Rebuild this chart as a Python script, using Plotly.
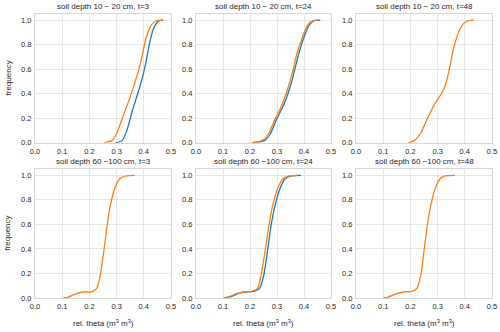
import plotly.graph_objects as go

BLUE = '#1f77b4'
ORANGE = '#ff7f0e'

titles = ['soil depth 10 \u2212 20 cm, t=3', 'soil depth 10 \u2212 20 cm, t=24', 'soil depth 10 \u2212 20 cm, t=48',
          'soil depth 60 \u2212100 cm, t=3', 'soil depth 60 \u2212100 cm, t=24', 'soil depth 60 \u2212100 cm, t=48']

# cumulative frequency curves: (theta, frequency)
top_t3_blue_theta = [0.296, 0.321, 0.3375, 0.359, 0.3775, 0.396, 0.409, 0.421, 0.434, 0.4525, 0.471]
top_t3_blue_freq = [0.0, 0.02, 0.10, 0.27, 0.40, 0.54, 0.67, 0.81, 0.92, 0.99, 1.0]
top_t3_orange_theta = [0.252, 0.284, 0.30, 0.321, 0.346, 0.3625, 0.381, 0.396, 0.409, 0.4275, 0.446, 0.471]
top_t3_orange_freq = [0.0, 0.02, 0.076, 0.2, 0.35, 0.46, 0.59, 0.73, 0.86, 0.96, 0.995, 1.0]

top_t24_blue_theta = [0.21, 0.255, 0.276, 0.297, 0.327, 0.349, 0.365, 0.381, 0.40, 0.419, 0.438, 0.46]
top_t24_blue_freq = [0.0, 0.02, 0.076, 0.185, 0.32, 0.457, 0.59, 0.73, 0.86, 0.96, 0.995, 1.0]
top_t24_orange_theta = [0.206, 0.246, 0.269, 0.291, 0.3205, 0.342, 0.359, 0.374, 0.394, 0.413, 0.432, 0.451]
top_t24_orange_freq = [0.0, 0.02, 0.076, 0.185, 0.32, 0.457, 0.59, 0.73, 0.86, 0.96, 0.995, 1.0]

top_t48_orange_theta = [0.192, 0.216, 0.237, 0.265, 0.29, 0.314, 0.33, 0.345, 0.357, 0.375, 0.394, 0.412, 0.433]
top_t48_orange_freq = [0.0, 0.02, 0.076, 0.21, 0.32, 0.40, 0.48, 0.62, 0.755, 0.89, 0.97, 0.995, 1.0]

bot_t3_orange_theta = [0.104, 0.122, 0.152, 0.177, 0.207, 0.226, 0.24, 0.254, 0.265, 0.277, 0.293, 0.311, 0.335,
                       0.366]
bot_t3_orange_freq = [0.0, 0.008, 0.035, 0.049, 0.05, 0.076, 0.185, 0.40, 0.59, 0.755, 0.89, 0.97, 0.995, 1.0]

bot_t24_blue_theta = [0.105, 0.132, 0.156, 0.18, 0.215, 0.235, 0.251, 0.266, 0.278, 0.293, 0.311, 0.329, 0.354,
                      0.388]
bot_t24_blue_freq = [0.0, 0.014, 0.035, 0.049, 0.054, 0.076, 0.185, 0.40, 0.59, 0.755, 0.89, 0.97, 0.995, 1.0]
bot_t24_orange_theta = [0.101, 0.126, 0.15, 0.174, 0.205, 0.227, 0.241, 0.257, 0.27, 0.284, 0.302, 0.321, 0.345,
                        0.376]
bot_t24_orange_freq = [0.0, 0.014, 0.035, 0.049, 0.054, 0.076, 0.185, 0.40, 0.59, 0.755, 0.89, 0.97, 0.995, 1.0]

bot_t48_orange_theta = [0.10, 0.118, 0.149, 0.174, 0.205, 0.223, 0.238, 0.251, 0.262, 0.275, 0.291, 0.309, 0.327,
                        0.364]
bot_t48_orange_freq = [0.0, 0.008, 0.035, 0.049, 0.054, 0.076, 0.185, 0.40, 0.59, 0.755, 0.89, 0.97, 0.995, 1.0]

x_ticks = [0.0, 0.1, 0.2, 0.3, 0.4, 0.5]
y_ticks = [0.0, 0.2, 0.4, 0.6, 0.8, 1.0]

panels = [
    [(top_t3_blue_theta, top_t3_blue_freq, BLUE), (top_t3_orange_theta, top_t3_orange_freq, ORANGE)],
    [(top_t24_blue_theta, top_t24_blue_freq, BLUE), (top_t24_orange_theta, top_t24_orange_freq, ORANGE)],
    [(top_t48_orange_theta, top_t48_orange_freq, ORANGE)],
    [(bot_t3_orange_theta, bot_t3_orange_freq, ORANGE)],
    [(bot_t24_blue_theta, bot_t24_blue_freq, BLUE), (bot_t24_orange_theta, bot_t24_orange_freq, ORANGE)],
    [(bot_t48_orange_theta, bot_t48_orange_freq, ORANGE)],
]

W, H = 500, 332
# panel frames in pixels
col_px = [(35, 171), (196, 331), (356, 492)]
row_px = [(14, 142.7), (169, 297.7)]
ML, MR, MT, MB = 35, W - 492, 14, H - 297.7
pw, ph = W - ML - MR, H - MT - MB

text_color = '#262626'
tick_font = dict(size=7.5, color=text_color)
label_font = dict(size=8, color=text_color)


def px_x(x):
    return (x - ML) / pw


def px_y(y):
    return (H - MB - y) / ph


fig = go.Figure()
layout = {}
for i, curves in enumerate(panels):
    r, c = divmod(i, 3)
    n = '' if i == 0 else str(i + 1)
    x0, x1 = col_px[c]
    y0, y1 = row_px[r]
    xdom = [px_x(x0), px_x(x1)]
    ydom = [px_y(y1), px_y(y0)]
    layout['xaxis' + n] = dict(domain=xdom, anchor='y' + n, range=[0, 0.5], tickvals=x_ticks, tickformat='.1f',
                               showgrid=True, gridcolor='#e6e6e6', gridwidth=1, zeroline=False, showline=True,
                               linecolor='#d6d6d6', linewidth=1, mirror=True, ticks='', tickfont=tick_font,
                               ticklabelstandoff=1, automargin=False)
    layout['yaxis' + n] = dict(domain=ydom, anchor='x' + n, range=[0, 1.05], tickvals=y_ticks, tickformat='.1f',
                               showgrid=True, gridcolor='#e6e6e6', gridwidth=1, zeroline=False, showline=True,
                               linecolor='#d6d6d6', linewidth=1, mirror=True, ticks='', tickfont=tick_font,
                               ticklabelstandoff=1, automargin=False)
    for x, y, color in curves:
        fig.add_trace(go.Scatter(x=x, y=y, xaxis='x' + n, yaxis='y' + n, mode='lines',
                                 line=dict(color=color, width=1.3, shape='spline', smoothing=0.7),
                                 showlegend=False, hoverinfo='skip', cliponaxis=False))
    fig.add_annotation(text=titles[i], x=sum(xdom) / 2, y=ydom[1], xref='paper', yref='paper',
                       xanchor='center', yanchor='bottom', yshift=1, showarrow=False, font=label_font)
    if r == 1:
        fig.add_annotation(text='rel. theta (m<sup>3</sup> m<sup>3</sup>)', x=sum(xdom) / 2, y=px_y(323),
                           xref='paper', yref='paper', xanchor='center', yanchor='middle', showarrow=False,
                           font=label_font)
    if c == 0:
        fig.add_annotation(text='frequency', x=px_x(8), y=px_y((y0 + y1) / 2), xref='paper', yref='paper',
                           xanchor='center', yanchor='middle', textangle=-90, showarrow=False, font=label_font)

fig.update_layout(**layout)
fig.update_layout(width=W, height=H, margin=dict(l=ML, r=MR, t=MT, b=MB), plot_bgcolor='white',
                  paper_bgcolor='white', font=dict(family='Liberation Sans, Arial, sans-serif', color=text_color))

# the page's default body margin would shift the whole chart by 8px
fig.write_html('out.html', config={'displayModeBar': False}, post_script="document.body.style.margin='0';")
